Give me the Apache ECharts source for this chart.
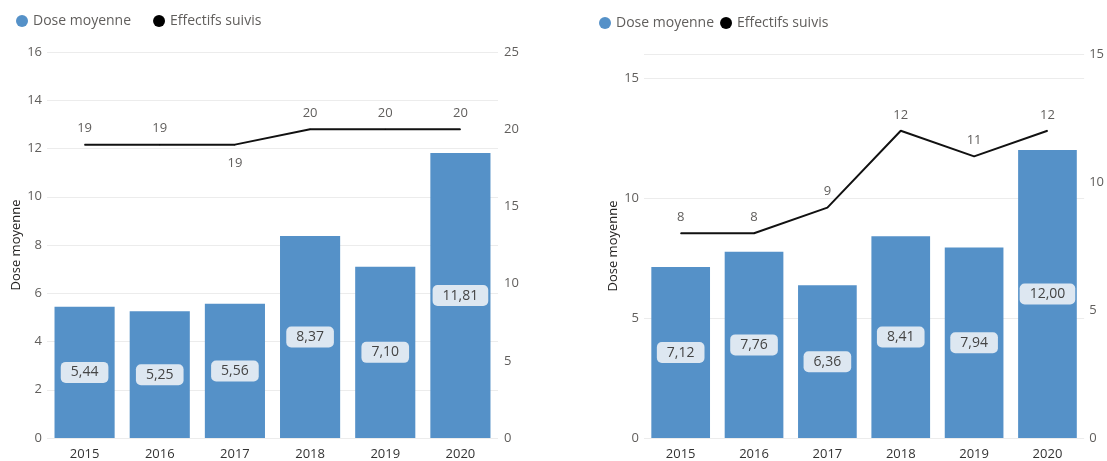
<!DOCTYPE html>
<html>
<head>
<meta charset="utf-8">
<script src="https://cdn.jsdelivr.net/npm/echarts@6/dist/echarts.min.js"></script>
<style>
html,body{margin:0;padding:0;background:#fff;}
#c{width:1107px;height:461px;}
</style>
</head>
<body>
<div id="c"></div>
<script>
const categories = ['2015','2016','2017','2018','2019','2020'];
const doseLeft = [5.44, 5.25, 5.56, 8.37, 7.10, 11.81];
const effLeft = [19, 19, 19, 20, 20, 20];
const doseRight = [7.12, 7.76, 6.36, 8.41, 7.94, 12.00];
const effRight = [8, 8, 9, 12, 11, 12];

const FONT = '"Open Sans", "Noto Sans", sans-serif';
const BAR = '#5591c8';
const GRID = '#ececec';
const TICK = '#605e5c';

function fmt(v){ return v.toFixed(2).replace('.', ','); }

const barLabel = {
  show: true, position: 'inside', color: '#444', fontSize: 14, fontFamily: FONT,
  backgroundColor: '#dde7f1', borderRadius: 5, padding: [4, 10, 3, 10],
  formatter: p => fmt(p.value)
};
const lineLabel = { show: true, position: 'top', distance: 9, color: TICK, fontSize: 13, fontFamily: FONT };

const chart = echarts.init(document.getElementById('c'));
chart.setOption({
  animation: false,
  textStyle: { fontFamily: FONT },
  legend: [
    { left: 11, top: 9, icon: 'circle', itemWidth: 12, itemHeight: 12, itemGap: 22,
      textStyle: { color: TICK, fontSize: 14, fontFamily: FONT },
      data: ['Dose moyenne', 'Effectifs suivis'] },
    { left: 594, top: 11, icon: 'circle', itemWidth: 12, itemHeight: 12, itemGap: 6, itemTextGap: 3,
      textStyle: { color: TICK, fontSize: 14, fontFamily: FONT },
      data: ['Dose moyenne', 'Effectifs suivis'] }
  ],
  grid: [
    { left: 47, right: 609, top: 52, bottom: 20 },
    { left: 644, right: 20, top: 54, bottom: 21 }
  ],
  xAxis: [0, 1].map(i => ({
    type: 'category', gridIndex: i, data: categories,
    axisLine: { show: false }, axisTick: { show: false },
    axisLabel: { color: '#333', fontSize: 13, fontFamily: FONT, margin: 10 }
  })),
  yAxis: [
    { type: 'value', gridIndex: 0, min: 0, max: 16, interval: 2,
      name: 'Dose moyenne', nameLocation: 'middle', nameRotate: 90, nameGap: 24,
      nameTextStyle: { color: '#252423', fontSize: 13, fontFamily: FONT },
      axisLabel: { color: TICK, fontSize: 13, margin: 5 },
      splitLine: { lineStyle: { color: GRID } } },
    { type: 'value', gridIndex: 0, min: 0, max: 25, interval: 5, position: 'right',
      axisLabel: { color: TICK, fontSize: 13, margin: 6 },
      splitLine: { show: false } },
    { type: 'value', gridIndex: 1, min: 0, max: 16, interval: 5,
      name: 'Dose moyenne', nameLocation: 'middle', nameRotate: 90, nameGap: 24,
      nameTextStyle: { color: '#252423', fontSize: 13, fontFamily: FONT },
      axisLabel: { color: TICK, fontSize: 13, margin: 5, showMaxLabel: false },
      splitLine: { lineStyle: { color: GRID } } },
    { type: 'value', gridIndex: 1, min: 0, max: 15, interval: 5, position: 'right',
      axisLabel: { color: TICK, fontSize: 13, margin: 5 },
      splitLine: { show: false } }
  ],
  series: [
    { name: 'Dose moyenne', type: 'bar', xAxisIndex: 0, yAxisIndex: 0, data: doseLeft,
      barCategoryGap: '20%', itemStyle: { color: BAR }, label: barLabel },
    { name: 'Effectifs suivis', type: 'line', xAxisIndex: 0, yAxisIndex: 1,
      data: effLeft.map((v, i) => i === 2 ? { value: v, label: { position: 'bottom', distance: 12 } } : v),
      symbol: 'circle', symbolSize: 1, showSymbol: true,
      itemStyle: { color: '#000' }, lineStyle: { color: '#111', width: 2 },
      label: lineLabel, z: 5 },
    { name: 'Dose moyenne', type: 'bar', xAxisIndex: 1, yAxisIndex: 2, data: doseRight,
      barCategoryGap: '20%', itemStyle: { color: BAR }, label: barLabel },
    { name: 'Effectifs suivis', type: 'line', xAxisIndex: 1, yAxisIndex: 3, data: effRight,
      symbol: 'circle', symbolSize: 1, showSymbol: true,
      itemStyle: { color: '#000' }, lineStyle: { color: '#111', width: 2 },
      label: lineLabel, z: 5 }
  ]
});
</script>
</body>
</html>
